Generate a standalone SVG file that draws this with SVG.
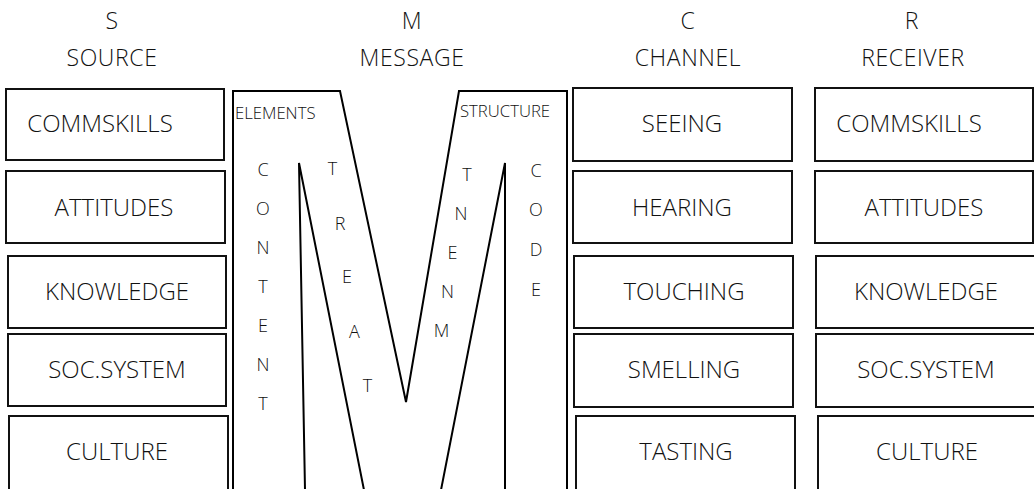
<svg xmlns="http://www.w3.org/2000/svg" width="1034" height="489" viewBox="0 0 1034 489">
<style>
  text { font-family: "Open Sans", "Noto Sans", "DejaVu Sans", sans-serif; fill: #111111; font-weight: 300; text-anchor: middle; }
  .hdr { font-size: 23px; letter-spacing: 0.6px; }
  .lbl { font-size: 24px; }
  .sm { font-size: 16.7px; text-anchor: start; }
  .ltr { font-size: 18px; }
  .box { fill: #ffffff; stroke: #111111; stroke-width: 2; }
  .ln { fill: none; stroke: #000000; stroke-width: 2; stroke-linejoin: miter; }
</style>
<rect x="0" y="0" width="1034" height="489" fill="#ffffff"/>

<g id="headers">
  <text class="hdr" x="112" y="29">S</text>
  <text class="hdr" x="112" y="66">SOURCE</text>
  <text class="hdr" x="412" y="29">M</text>
  <text class="hdr" x="412" y="66">MESSAGE</text>
  <text class="hdr" x="688" y="29">C</text>
  <text class="hdr" x="688" y="66">CHANNEL</text>
  <text class="hdr" x="912" y="29">R</text>
  <text class="hdr" x="913" y="66">RECEIVER</text>
</g>

<g id="source-commskills"><rect class="box" x="6" y="89" width="218" height="71"/><text class="lbl" x="100" y="132">COMMSKILLS</text></g>
<g id="source-attitudes"><rect class="box" x="6" y="171" width="219" height="72"/><text class="lbl" x="114" y="216">ATTITUDES</text></g>
<g id="source-knowledge"><rect class="box" x="8" y="256" width="218" height="72"/><text class="lbl" x="117" y="300">KNOWLEDGE</text></g>
<g id="source-socsystem"><rect class="box" x="8" y="334" width="218" height="72"/><text class="lbl" x="117" y="378">SOC.SYSTEM</text></g>
<g id="source-culture"><rect class="box" x="9" y="416" width="219" height="74"/><text class="lbl" x="117" y="460">CULTURE</text></g>

<g id="message">
  <path class="ln" d="M233,490 L233,91 L340,91 L406,402 L459,91 L567,91 L567,490"/>
  <path class="ln" d="M305,490 L299,163 L364,490"/>
  <path class="ln" d="M441,490 L505,163 L505,490"/>
  <text class="sm" x="235" y="119">ELEMENTS</text>
  <text class="sm" x="460" y="117">STRUCTURE</text>
  <text class="ltr" x="263" y="176">C</text>
  <text class="ltr" x="263" y="215">O</text>
  <text class="ltr" x="263" y="254">N</text>
  <text class="ltr" x="263" y="293">T</text>
  <text class="ltr" x="263" y="332">E</text>
  <text class="ltr" x="263" y="371">N</text>
  <text class="ltr" x="263" y="410">T</text>
  <text class="ltr" x="332.5" y="175">T</text>
  <text class="ltr" x="340" y="230">R</text>
  <text class="ltr" x="347" y="283">E</text>
  <text class="ltr" x="354.5" y="338">A</text>
  <text class="ltr" x="367.5" y="392">T</text>
  <text class="ltr" x="467" y="181">T</text>
  <text class="ltr" x="461" y="220">N</text>
  <text class="ltr" x="452.5" y="259">E</text>
  <text class="ltr" x="447.5" y="298">N</text>
  <text class="ltr" x="441.5" y="337">M</text>
  <text class="ltr" x="536" y="177">C</text>
  <text class="ltr" x="536" y="216">O</text>
  <text class="ltr" x="536" y="256">D</text>
  <text class="ltr" x="536" y="296">E</text>
</g>

<g id="channel-seeing"><rect class="box" x="573" y="88" width="219" height="73"/><text class="lbl" x="682" y="132">SEEING</text></g>
<g id="channel-hearing"><rect class="box" x="573" y="171" width="219" height="72"/><text class="lbl" x="682" y="216">HEARING</text></g>
<g id="channel-touching"><rect class="box" x="574" y="256" width="219" height="72"/><text class="lbl" x="684" y="300">TOUCHING</text></g>
<g id="channel-smelling"><rect class="box" x="574" y="334" width="219" height="73"/><text class="lbl" x="684" y="378">SMELLING</text></g>
<g id="channel-tasting"><rect class="box" x="576" y="416" width="219" height="74"/><text class="lbl" x="686" y="460">TASTING</text></g>

<g id="receiver-commskills"><rect class="box" x="815" y="88" width="218" height="73"/><text class="lbl" x="909" y="132">COMMSKILLS</text></g>
<g id="receiver-attitudes"><rect class="box" x="815" y="171" width="218" height="72"/><text class="lbl" x="924" y="216">ATTITUDES</text></g>
<g id="receiver-knowledge"><rect class="box" x="816" y="256" width="220" height="72"/><text class="lbl" x="926" y="300">KNOWLEDGE</text></g>
<g id="receiver-socsystem"><rect class="box" x="816" y="334" width="220" height="73"/><text class="lbl" x="926" y="378">SOC.SYSTEM</text></g>
<g id="receiver-culture"><rect class="box" x="818" y="416" width="218" height="74"/><text class="lbl" x="927" y="460">CULTURE</text></g>

<g id="connectors"/>
</svg>
